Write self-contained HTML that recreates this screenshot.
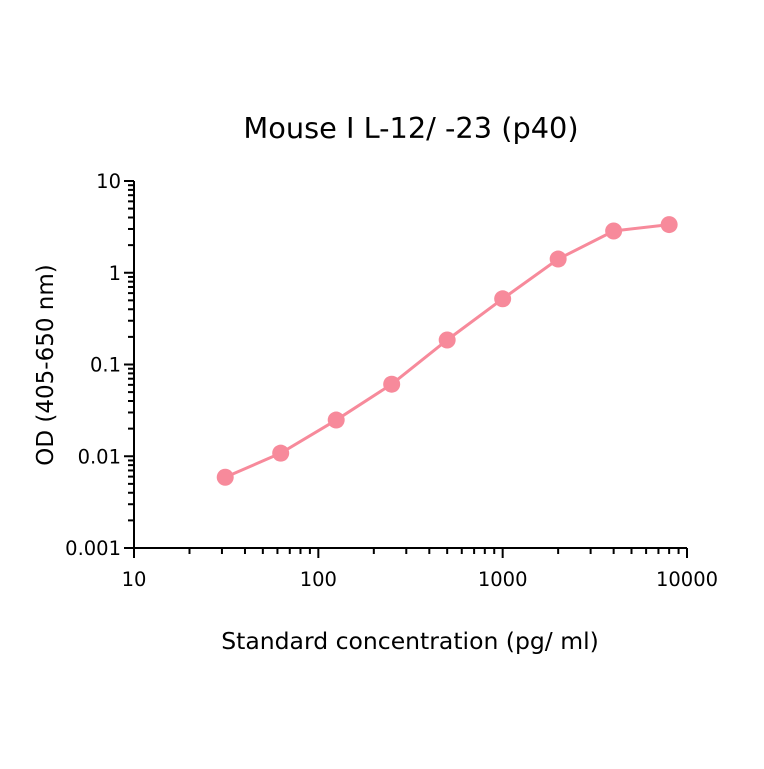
<!DOCTYPE html>
<html><head><meta charset="utf-8"><style>body{margin:0;background:#fff}svg text{font-family:"DejaVu Sans","Liberation Sans",sans-serif;fill:#000}</style></head>
<body>
<svg id="chart" width="764" height="764" xmlns="http://www.w3.org/2000/svg">
<text x="411" y="138" font-size="28.8" text-anchor="middle" xml:space="preserve">Mouse I L-12/ -23 (p40)</text>
<text x="410" y="649" font-size="23.5" text-anchor="middle" xml:space="preserve">Standard concentration (pg/ ml)</text>
<text transform="translate(53,365) rotate(-90)" font-size="23" text-anchor="middle">OD (405-650 nm)</text>
<g id="axes"></g><g id="series"></g>
</svg>
<script>
const concentrations=[31.25,62.5,125,250,500,1000,2000,4000,8000];
const odValues=[0.0059,0.0108,0.0248,0.061,0.185,0.52,1.41,2.85,3.35];
const xTickLabels=["10","100","1000","10000"];
const yTickLabels=["0.001","0.01","0.1","1","10"];
const NS="http://www.w3.org/2000/svg";
const X0=134,X1=687,Y0=548,Y1=181;
const xs=v=>X0+(Math.log10(v)-1)/3*(X1-X0);
const ys=v=>Y0-(Math.log10(v)+3)/4*(Y0-Y1);
const axes=document.getElementById('axes'),ser=document.getElementById('series');
function mk(t,a,p){const e=document.createElementNS(NS,t);for(const k in a)e.setAttribute(k,a[k]);p.appendChild(e);return e;}
let l=mk('line',{x1:X0,y1:Y0,x2:X1,y2:Y0,stroke:'#000','stroke-width':2},axes);


l=mk('line',{x1:X0,y1:Y0,x2:X0,y2:Y1,stroke:'#000','stroke-width':2},axes);


xTickLabels.forEach((s,i)=>{const v=+s;const x=xs(v);
 mk('line',{x1:x,y1:Y0,x2:x,y2:Y0+10,stroke:'#000','stroke-width':2},axes);
 const t=mk('text',{x:x,y:Y0+38,'font-size':19.5,'text-anchor':'middle'},axes);t.textContent=s;
 
 
 if(i<xTickLabels.length-1)for(let m=2;m<10;m++){const xm=xs(v*m);mk('line',{x1:xm,y1:Y0,x2:xm,y2:Y0+6,stroke:'#000','stroke-width':2},axes);}
});
yTickLabels.forEach((s,i)=>{const v=+s;const y=ys(v);
 mk('line',{x1:X0-10,y1:y,x2:X0,y2:y,stroke:'#000','stroke-width':2},axes);
 const t=mk('text',{x:X0-13,y:y+7,'font-size':19.5,'text-anchor':'end'},axes);t.textContent=s;
 
 
 if(i<yTickLabels.length-1)for(let m=2;m<10;m++){const ym=ys(v*m);mk('line',{x1:X0-6,y1:ym,x2:X0,y2:ym,stroke:'#000','stroke-width':2},axes);}
});
const pl=mk('polyline',{points:concentrations.map((c,i)=>xs(c)+','+ys(odValues[i])).join(' '),fill:'none',stroke:'#f78a9b','stroke-width':3},ser);


concentrations.forEach((c,i)=>{const p=mk('circle',{cx:xs(c),cy:ys(odValues[i]),r:8.5,fill:'#f78a9b'},ser);
 
 });
</script>
</body></html>
